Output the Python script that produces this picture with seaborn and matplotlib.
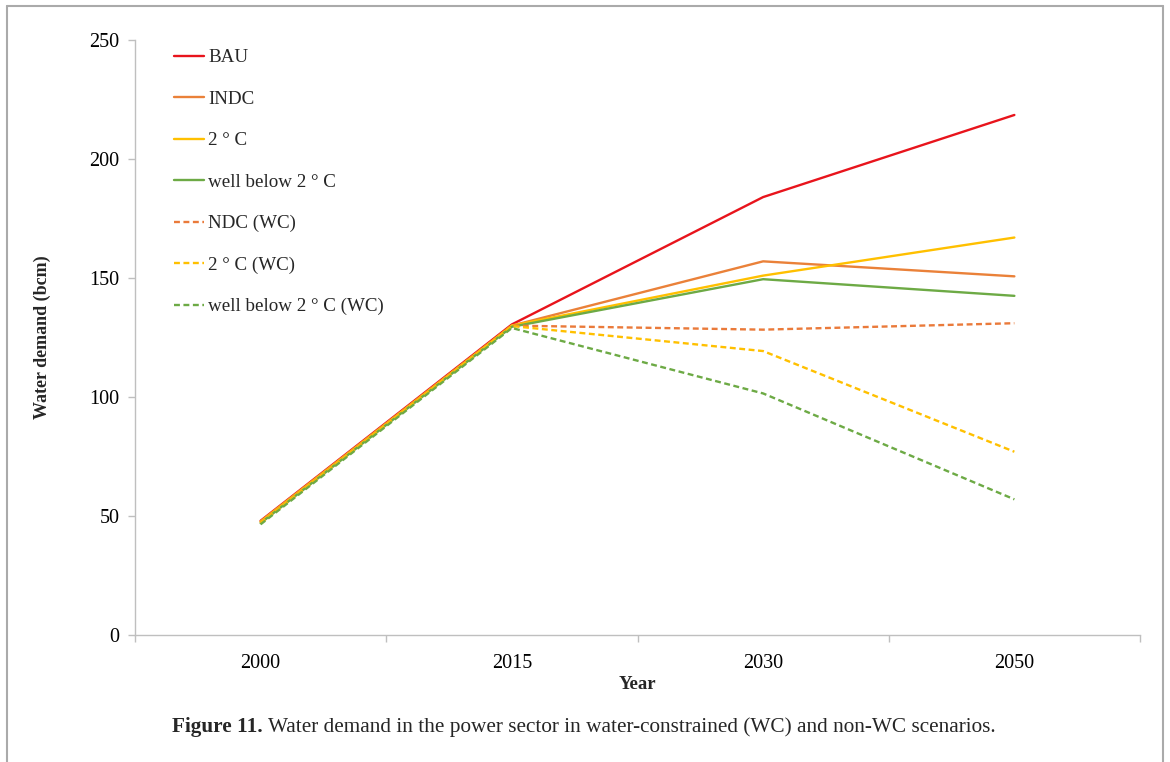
import matplotlib
matplotlib.use("Agg")
import matplotlib.pyplot as plt
import seaborn as sns
import pandas as pd

years = ["2000", "2015", "2030", "2050"]
bau = [48, 130.5, 184, 218.5]
indc = [47.8, 130, 157, 150.7]
two_c = [47.5, 130, 151, 167]
wb2c = [47, 129.5, 149.5, 142.5]
ndc_wc = [47, 130, 128.3, 131]
two_c_wc = [47, 129.8, 119.3, 77]
wb2c_wc = [46.5, 129, 101.5, 57]

series_names = ["BAU", "INDC", "2 ° C", "well below 2 ° C",
                "NDC (WC)", "2 ° C (WC)", "well below 2 ° C (WC)"]
series_values = [bau, indc, two_c, wb2c, ndc_wc, two_c_wc, wb2c_wc]
colors = ["#E8141C", "#EA8139", "#FFC000", "#6DAA45",
          "#EA7A3A", "#FFC000", "#6DAA45"]
dashed = [False, False, False, False, True, True, True]

rows = []
for name, vals in zip(series_names, series_values):
    for y, v in zip(years, vals):
        rows.append({"Year": y, "Value": v, "Scenario": name})
df = pd.DataFrame(rows)

sns.set_theme(style="white")
plt.rcParams["font.family"] = ["Liberation Serif", "DejaVu Serif"]

TICK_FS = 14.5
LEG_FS = 13.7

fig = plt.figure(figsize=(11.7, 7.62), dpi=100)
ax = fig.add_axes([135 / 1170, 1 - 635 / 762, 1005 / 1170, 595 / 762])

palette = dict(zip(series_names, colors))
dash_map = {n: ((2.5, 1.5) if d else "") for n, d in zip(series_names, dashed)}
sns.lineplot(data=df, x="Year", y="Value", hue="Scenario", style="Scenario",
             palette=palette, dashes=dash_map, hue_order=series_names,
             style_order=series_names, linewidth=1.7, sort=False, ax=ax,
             legend=True)

ax.set_xlim(-0.5, 3.5)
ax.set_ylim(0, 250)
ax.set_yticks([0, 50, 100, 150, 200, 250])
ax.set_xticks(range(len(years)))
ax.set_xticklabels(years)
ax.set_xticks([-0.5, 0.5, 1.5, 2.5, 3.5], minor=True)

for s in ["top", "right"]:
    ax.spines[s].set_visible(False)
for s in ["left", "bottom"]:
    ax.spines[s].set_color("#BFBFBF")
    ax.spines[s].set_linewidth(1.0)

ax.tick_params(axis="y", which="major", length=5, width=1.0, color="#BFBFBF",
               pad=6, labelsize=TICK_FS, left=True, labelcolor="black")
ax.tick_params(axis="x", which="major", length=0, pad=13.5, labelsize=TICK_FS,
               labelcolor="black")
ax.tick_params(axis="x", which="minor", length=5, width=1.0, color="#BFBFBF",
               bottom=True, direction="out")

ax.set_xlabel("Year", fontsize=13.5, fontweight="bold")
ax.set_ylabel("Water demand (bcm)", fontsize=13, fontweight="bold")
ax.yaxis.set_label_coords(-(135 - 51) / 1005, 0.5)
ax.xaxis.set_label_coords(0.5, -(676 - 635) / 595)

leg = ax.legend(loc="upper left", bbox_to_anchor=((174 - 135) / 1005, (635 - 49) / 595),
                frameon=False, fontsize=LEG_FS, handlelength=1.58,
                handletextpad=0.21, labelspacing=1.27, borderpad=0, borderaxespad=0)
for h in leg.get_lines():
    h.set_linewidth(1.7)

t1 = fig.text(172 / 1170, 1 - 727 / 762, "Figure 11.", fontsize=15.3,
              fontweight="bold", ha="left", va="center")
ax.annotate(" Water demand in the power sector in water-constrained (WC) and non-WC scenarios.",
            xy=(1, 0), xycoords=t1, ha="left", va="bottom", fontsize=15.3,
            annotation_clip=False)

# figure frame (top, left, right)
frame_kw = dict(color="#AAAAAA", linewidth=1.5, transform=fig.transFigure)
fig.add_artist(plt.Line2D([7 / 1170, 1163 / 1170], [1 - 6 / 762, 1 - 6 / 762], **frame_kw))
fig.add_artist(plt.Line2D([7 / 1170, 7 / 1170], [0, 1 - 6 / 762], **frame_kw))
fig.add_artist(plt.Line2D([1163 / 1170, 1163 / 1170], [0, 1 - 6 / 762], **frame_kw))

fig.savefig("out.png", dpi=100)
